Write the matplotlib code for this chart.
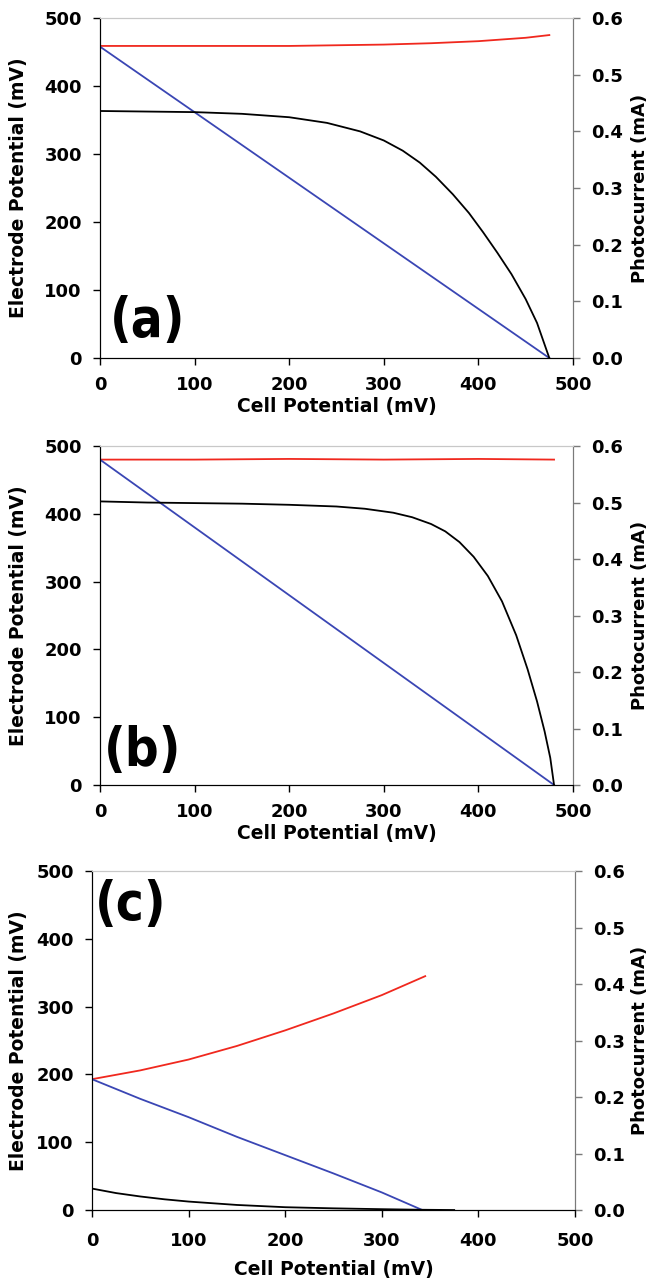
import matplotlib
matplotlib.use("Agg")
import matplotlib.pyplot as plt
from matplotlib import font_manager as fm
import numpy as np

# cell potential (mV) vs electrode potentials (mV, left axis) and photocurrent (mA, right axis)
# panel (a)
a_red_x = [0, 50, 100, 150, 200, 250, 300, 350, 400, 450, 475]
a_red_y = [459, 459, 459, 459, 459, 460, 461, 463, 466, 471, 475]
a_blue_x = [0, 475]
a_blue_y = [458, 0]
a_blk_x = [0, 50, 100, 150, 200, 240, 275, 300, 320, 338, 355, 373, 390, 405, 420, 435, 450, 462, 475]
a_blk_i = [0.436, 0.435, 0.434, 0.431, 0.425, 0.415, 0.400, 0.384, 0.366, 0.345, 0.320, 0.289, 0.256, 0.222, 0.186, 0.148, 0.104, 0.062, 0.0]

# panel (b)
b_red_x = [0, 100, 200, 300, 400, 480]
b_red_y = [480, 480, 481, 480, 481, 480]
b_blue_x = [0, 480]
b_blue_y = [480, 0]
b_blk_x = [0, 50, 100, 150, 200, 250, 280, 310, 330, 350, 365, 380, 395, 410, 425, 440, 452, 462, 470, 476, 480]
b_blk_i = [0.502, 0.500, 0.499, 0.498, 0.496, 0.493, 0.489, 0.482, 0.474, 0.462, 0.449, 0.430, 0.404, 0.370, 0.325, 0.265, 0.205, 0.148, 0.095, 0.048, 0.0]

# panel (c)
c_red_x = [0, 50, 100, 150, 200, 250, 300, 345]
c_red_y = [193, 206, 222, 242, 265, 290, 317, 345]
c_blue_x = [0, 50, 100, 150, 200, 250, 300, 342]
c_blue_y = [193, 164, 137, 108, 81, 54, 26, 0]
c_blk_x = [0, 25, 50, 75, 100, 150, 200, 250, 300, 340, 375]
c_blk_i = [0.038, 0.030, 0.024, 0.019, 0.015, 0.009, 0.005, 0.003, 0.0015, 0.0005, 0.0]

panels = [
    ("(a)", a_red_x, a_red_y, a_blue_x, a_blue_y, a_blk_x, a_blk_i),
    ("(b)", b_red_x, b_red_y, b_blue_x, b_blue_y, b_blk_x, b_blk_i),
    ("(c)", c_red_x, c_red_y, c_blue_x, c_blue_y, c_blk_x, c_blk_i),
]

# axes rectangles (figure fraction)
rects = [
    [0.1538, 0.7205, 0.7277, 0.2654],
    [0.1538, 0.3872, 0.7277, 0.2646],
    [0.1415, 0.0554, 0.7430, 0.2646],
]
tag_pos = [(0.10, 0.11), (0.09, 0.10), (0.08, 0.90)]
ylab_x = [(-0.173, 1.142), (-0.173, 1.142), (-0.153, 1.135)]
xlab_y = [-0.142, -0.142, -0.175]
xpad = [8, 8, 11]

plt.rcParams['font.family'] = ['DejaVu Sans']
plt.rcParams['font.weight'] = 'bold'

# a narrow heavy face for the panel tags if one is installed
tag_font = fm.FontProperties(family='Liberation Sans', weight='bold', size=38)
narrow = [f for f in fm.fontManager.ttflist
          if f.stretch in ('condensed', 'semi-condensed', 'extra-condensed', 'narrow')
          and f.weight in ('bold', 700, 800, 900, 'heavy', 'black')]
if narrow:
    tag_font = fm.FontProperties(fname=narrow[0].fname, size=38)

fig = plt.figure(figsize=(6.5, 12.81), dpi=100)

for (tag, rx, ry, bx, by, kx, ki), r, tp, yl, xl, xp in zip(panels, rects, tag_pos, ylab_x, xlab_y, xpad):
    ax = fig.add_axes(r)
    ax2 = ax.twinx()
    ax.plot(rx, ry, color='#f0281e', lw=1.3)
    ax.plot(bx, by, color='#3a46b4', lw=1.3)
    ax2.plot(kx, ki, color='black', lw=1.3)

    ax.set_xlim(0, 500)
    ax.set_ylim(0, 500)
    ax2.set_ylim(0, 0.6)
    ax.set_xticks(np.arange(0, 501, 100))
    ax.set_yticks(np.arange(0, 501, 100))
    ax2.set_yticks(np.arange(0, 0.61, 0.1))
    ax2.set_yticklabels(['%.1f' % v for v in np.arange(0, 0.61, 0.1)])

    for a in (ax, ax2):
        a.spines['top'].set_color('#c8c8c8')
        a.spines['right'].set_color('#7a7a7a')
        a.spines['left'].set_color('black')
        a.spines['bottom'].set_color('black')
    ax.tick_params(axis='x', direction='out', length=5, width=1, labelsize=13, pad=xp)
    ax.tick_params(axis='y', direction='out', length=5, width=1, labelsize=13, pad=8)
    ax2.tick_params(axis='y', direction='out', length=5, width=1, color='#7a7a7a', labelsize=13, pad=8)

    ax.set_xlabel('Cell Potential (mV)', fontsize=13.5, fontweight='bold', va='center')
    ax.xaxis.set_label_coords(0.5, xl)
    ax.set_ylabel('Electrode Potential (mV)', fontsize=13.5, fontweight='bold', va='center')
    ax.yaxis.set_label_coords(yl[0], 0.5)
    ax2.set_ylabel('Photocurrent (mA)', fontsize=13, fontweight='bold', va='center')
    ax2.yaxis.set_label_coords(yl[1], 0.5)

    ax.text(tp[0], tp[1], tag, transform=ax.transAxes, fontproperties=tag_font,
            ha='center', va='center')

fig.savefig('out.png', dpi=100)
